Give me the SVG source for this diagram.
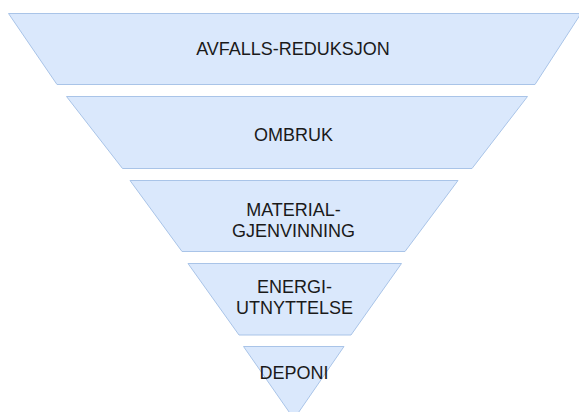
<svg xmlns="http://www.w3.org/2000/svg" width="579" height="412" viewBox="0 0 579 412">
<style>
.lvl{fill:#dae8fc;stroke:#a9c4e8;stroke-width:1}
.t{font-family:"Liberation Sans",Arial,sans-serif;font-size:18px;fill:#1a1a1a;text-anchor:middle}
</style>
<rect width="579" height="412" fill="#ffffff"/>
<g id="connectors"/>
<g id="level1">
<polygon class="lvl" points="8.5,13.5 581,13.5 535,84.5 57,84.5"/>
<text class="t" x="293" y="54.5">AVFALLS-REDUKSJON</text>
</g>
<g id="level2">
<polygon class="lvl" points="66.5,96.5 527.5,96.5 472,168.5 122.5,168.5"/>
<text class="t" x="293.5" y="140.5">OMBRUK</text>
</g>
<g id="level3">
<polygon class="lvl" points="130,180.5 458,180.5 405,251.5 182,251.5"/>
<text class="t" x="293.5" y="215.7">MATERIAL-</text>
<text class="t" x="293.5" y="237.3">GJENVINNING</text>
</g>
<g id="level4">
<polygon class="lvl" points="188,263.5 401.5,263.5 351,335 239,335"/>
<text class="t" x="294.5" y="293.3">ENERGI-</text>
<text class="t" x="294.5" y="314">UTNYTTELSE</text>
</g>
<g id="level5">
<polygon class="lvl" points="243.5,346.5 344,346.5 294,419"/>
<text class="t" x="294" y="378.5">DEPONI</text>
</g>
</svg>
